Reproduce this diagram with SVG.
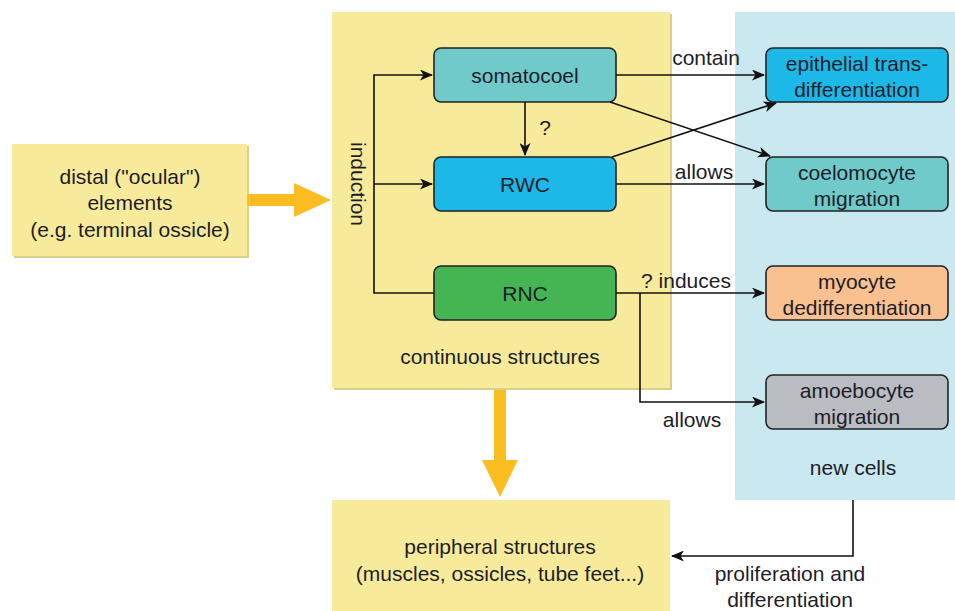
<svg xmlns="http://www.w3.org/2000/svg" width="955" height="611" viewBox="0 0 955 611">
<defs>
<marker id="ah" markerWidth="13" markerHeight="11" refX="12" refY="5.5" orient="auto" markerUnits="userSpaceOnUse">
<path d="M0,0 L13,5.5 L0,11 L3.5,5.5 Z" fill="#111"/>
</marker>
</defs>
<style>
text{font-family:"Liberation Sans",Arial,sans-serif;fill:#1d1d2a;font-size:21px;text-anchor:middle}
.area{fill:#f7eb9b}
.shadow{fill:#d8cf8a}
.node{stroke:#222;stroke-width:1.6}
.edge{fill:none;stroke:#111;stroke-width:1.6}
.big{fill:#fbbd22}
</style>
<rect x="0" y="0" width="955" height="611" fill="#fff"/>
<g id="new-cells">
<rect x="735" y="12" width="220" height="488" fill="#c9e8ef"/>
<text x="853" y="475">new cells</text>
</g>
<g id="distal">
<rect x="14" y="146" width="235" height="112" class="shadow"/>
<rect x="12" y="144" width="235" height="112" class="area"/>
<text x="130" y="184">distal ("ocular")</text>
<text x="130" y="210">elements</text>
<text x="130" y="237">(e.g. terminal ossicle)</text>
</g>
<g id="continuous">
<rect x="334" y="14" width="338" height="376" class="shadow"/>
<rect x="332" y="12" width="338" height="376" class="area"/>
<text x="500" y="364">continuous structures</text>
</g>
<g id="peripheral">
<rect x="332" y="500" width="338" height="111" class="area"/>
<text x="500" y="554">peripheral structures</text>
<text x="500" y="581">(muscles, ossicles, tube feet...)</text>
</g>
<g id="somatocoel">
<rect x="434" y="48" width="182" height="54" rx="7" class="node" fill="#6fcac9"/>
<text x="525" y="83">somatocoel</text>
</g>
<g id="rwc">
<rect x="434" y="157" width="182" height="54" rx="7" class="node" fill="#1bb8e8"/>
<text x="525" y="192">RWC</text>
</g>
<g id="rnc">
<rect x="434" y="266" width="182" height="54" rx="7" class="node" fill="#45b554"/>
<text x="525" y="301">RNC</text>
</g>
<g id="epithelial">
<rect x="766" y="48" width="182" height="54" rx="7" class="node" fill="#1bb8e8"/>
<text x="857" y="71">epithelial trans-</text>
<text x="857" y="97">differentiation</text>
</g>
<g id="coelomocyte">
<rect x="766" y="157" width="182" height="54" rx="7" class="node" fill="#6fcac9"/>
<text x="857" y="180">coelomocyte</text>
<text x="857" y="206">migration</text>
</g>
<g id="myocyte">
<rect x="766" y="266" width="182" height="54" rx="7" class="node" fill="#f9c18f"/>
<text x="857" y="289">myocyte</text>
<text x="857" y="315">dedifferentiation</text>
</g>
<g id="amoebocyte">
<rect x="766" y="375" width="182" height="54" rx="7" class="node" fill="#b9bcc0"/>
<text x="857" y="398">amoebocyte</text>
<text x="857" y="424">migration</text>
</g>
<g id="connectors">
<path class="big" d="M247,194 L294,194 L294,183 L331,200 L294,217 L294,206 L247,206 Z"/>
<path class="big" d="M494,390 L506,390 L506,460 L518,460 L500,497 L482,460 L494,460 Z"/>
<path class="edge" d="M434,293 L374,293 L374,75 L432,75" marker-end="url(#ah)"/>
<path class="edge" d="M374,184 L432,184" marker-end="url(#ah)"/>
<path class="edge" d="M525,102 L525,155" marker-end="url(#ah)"/>
<path class="edge" d="M616,75 L764,75" marker-end="url(#ah)"/>
<path class="edge" d="M610,102 L770,156" marker-end="url(#ah)"/>
<path class="edge" d="M612,157 L776,103" marker-end="url(#ah)"/>
<path class="edge" d="M616,184 L764,184" marker-end="url(#ah)"/>
<path class="edge" d="M616,293 L764,293" marker-end="url(#ah)"/>
<path class="edge" d="M640,293 L640,402 L764,402" marker-end="url(#ah)"/>
<path class="edge" d="M853,500 L853,556 L672,556" marker-end="url(#ah)"/>
<text x="351" y="184" transform="rotate(90 351 184)">induction</text>
<text x="545" y="135">?</text>
<text x="706" y="65">contain</text>
<text x="704" y="179">allows</text>
<text x="686" y="288">? induces</text>
<text x="692" y="427">allows</text>
<text x="790" y="581">proliferation and</text>
<text x="790" y="607">differentiation</text>
</g>
</svg>
